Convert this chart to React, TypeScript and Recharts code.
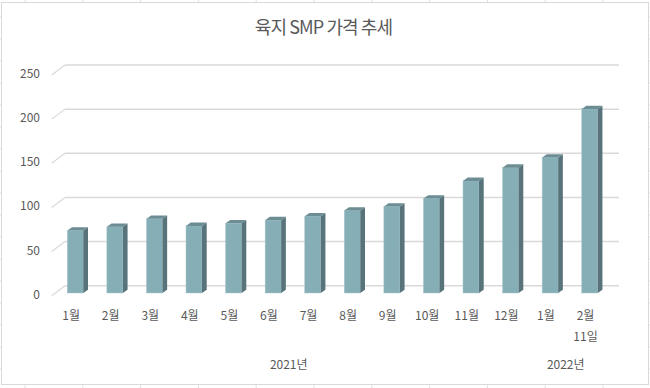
import { BarChart, Bar, XAxis, YAxis, CartesianGrid } from 'recharts';

const months = ['1월', '2월', '3월', '4월', '5월', '6월', '7월', '8월', '9월', '10월', '11월', '12월', '1월', '2월\n11일'];
const prices = [70.7, 75, 84, 76, 79, 82.5, 87, 93.5, 98, 107, 127, 142, 153.5, 208.5];
const years = ['2021년', '2022년'];
const yearCenters = [5.5, 12.5];
const yTicks = [0, 50, 100, 150, 200, 250];

const data = months.map((m, i) => ({ month: m, idx: i, price: prices[i] }));

// 3D depth offsets (back wall -> front of bars)
const FX = -9.7;
const FY = 7.3;
const DX = 4.7;
const DY = -3.3;
const FONT = '"Noto Sans CJK KR", "Noto Sans", sans-serif';

const Bar3D = (props: any) => {
  const { x, y, width, height } = props;
  const l = x + FX;
  const t = y + FY;
  const r = l + width;
  const b = t + height;
  return (
    <g>
      <rect x={l} y={t} width={width} height={height} fill="#85AEB6" stroke="#A9C8CE" strokeWidth={0.5} />
      <polygon points={`${r},${t} ${r + DX},${t + DY} ${r + DX},${b + DY} ${r},${b}`} fill="#58737A" />
      <polygon points={`${l},${t} ${l + DX},${t + DY} ${r + DX},${t + DY} ${r},${t}`} fill="#6B8D93" />
    </g>
  );
};

const YTick = (props: any) => {
  const { x, y, payload } = props;
  return (
    <g>
      <line x1={x - 13.3} y1={y + 10} x2={x} y2={y} stroke="#D9D9D9" strokeWidth={1.2} />
      <text x={x - 25} y={y + 13} textAnchor="end" fontSize={12} fill="#595959" fontFamily={FONT}>
        {payload.value}
      </text>
    </g>
  );
};

const MonthTick = (props: any) => {
  const { x, y, payload } = props;
  const lines = String(payload.value).split('\n');
  return (
    <g>
      {lines.map((s, i) => (
        <text key={i} x={x - 13.7} y={y + 34 + i * 21} textAnchor="middle" fontSize={12} fill="#595959" fontFamily={FONT}>
          {s}
        </text>
      ))}
    </g>
  );
};

const YearTick = (props: any) => {
  const { x, y, payload } = props;
  const label = years[yearCenters.indexOf(payload.value)];
  return (
    <text x={x - 13.7} y={y + 23.6} textAnchor="middle" fontSize={12} fill="#595959" fontFamily={FONT}>
      {label}
    </text>
  );
};

const Sheet = () => {
  const cols: number[] = [];
  for (let i = 0; i < 12; i++) cols.push(25 + i * 57.8);
  const rows: number[] = [];
  for (let i = 0; i < 18; i++) rows.push(17 + i * 22);
  return (
    <svg width={650} height={388} style={{ position: 'absolute', left: 0, top: 0 }}>
      {cols.map((c) => (
        <line key={'c' + c} x1={c} y1={0} x2={c} y2={388} stroke="#E1E1E1" strokeWidth={1} />
      ))}
      {rows.map((r) => (
        <line key={'r' + r} x1={0} y1={r} x2={650} y2={r} stroke="#E1E1E1" strokeWidth={1} />
      ))}
    </svg>
  );
};

export default function App() {
  return (
    <div style={{ position: 'absolute', left: 0, top: 0, width: 650, height: 388, background: '#fff' }}>
      <Sheet />
      <div
        style={{
          position: 'absolute',
          left: 1,
          top: 2,
          width: 646,
          height: 381,
          background: '#fff',
          border: '1px solid #D9D9D9',
        }}
      />
      <div
        style={{
          position: 'absolute',
          left: 0,
          top: 13,
          width: 647,
          textAlign: 'center',
          fontSize: 18,
          letterSpacing: -0.9,
          color: '#595959',
          fontFamily: FONT,
        }}
      >
        육지 SMP 가격 추세
      </div>
      <div style={{ position: 'absolute', left: 0, top: 0 }}>
        <BarChart
          width={650}
          height={388}
          data={data}
          margin={{ top: 65, right: 31, bottom: 0, left: 0 }}
          barSize={16}
        >
          <CartesianGrid vertical={false} stroke="#D9D9D9" strokeWidth={1.5} />
          <YAxis
            domain={[0, 250]}
            ticks={yTicks}
            width={65}
            axisLine={false}
            tickLine={false}
            tickSize={0}
            tickMargin={0}
            tick={YTick}
            interval={0}
          />
          <XAxis
            dataKey="month"
            height={60}
            axisLine={false}
            tickLine={false}
            tickSize={0}
            tickMargin={0}
            tick={MonthTick}
            interval={0}
          />
          <XAxis
            xAxisId="year"
            type="number"
            dataKey="idx"
            domain={[-0.5, 13.5]}
            ticks={yearCenters}
            height={42.3}
            axisLine={false}
            tickLine={false}
            tickSize={0}
            tickMargin={0}
            tick={YearTick}
            interval={0}
            allowDecimals
          />
          <Bar dataKey="price" shape={<Bar3D />} isAnimationActive={false} />
        </BarChart>
      </div>
    </div>
  );
}
